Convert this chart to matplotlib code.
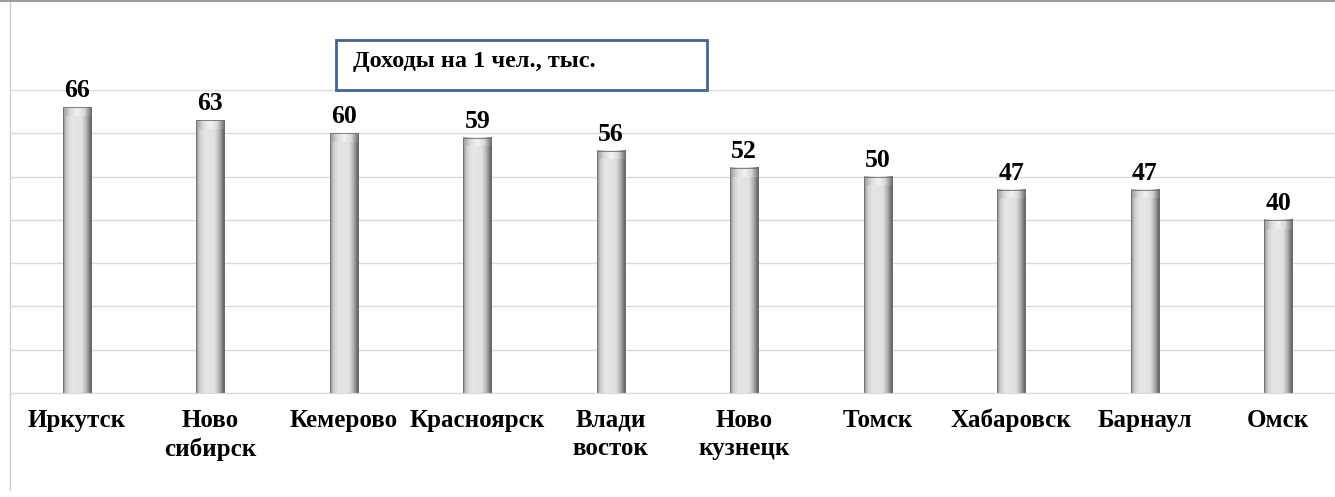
import numpy as np
import matplotlib
matplotlib.use("Agg")
import matplotlib.pyplot as plt
from matplotlib.colors import LinearSegmentedColormap
from matplotlib.patches import Rectangle
from matplotlib.lines import Line2D

# data
cities = ["Иркутск", "Ново\nсибирск", "Кемерово", "Красноярск", "Влади\nвосток",
          "Ново\nкузнецк", "Томск", "Хабаровск", "Барнаул", "Омск"]
income = [66, 63, 60, 59, 56, 52, 50, 47, 47, 40]
title = "Доходы на 1 чел., тыс."

plt.rcParams["font.family"] = ["Liberation Serif", "DejaVu Serif"]

fig = plt.figure(figsize=(13.35, 4.97), dpi=100)
ax = fig.add_axes([10 / 1335, 1 - 393 / 497, 1325 / 1335, 303 / 497])

# shaded "cylinder" look for the bars
body_cmap = LinearSegmentedColormap.from_list("body", [
    (0.0, "#8c8c8c"), (0.12, "#cfcfcf"), (0.3, "#e6e6e6"),
    (0.65, "#e2e2e2"), (0.82, "#b0b0b0"), (1.0, "#555555")])
cap_cmap = LinearSegmentedColormap.from_list("cap", [
    (0.0, "#9a9a9a"), (0.25, "#dcdcdc"), (0.5, "#f2f2f2"),
    (0.75, "#d6d6d6"), (1.0, "#6a6a6a")])
grad = np.linspace(0, 1, 64).reshape(1, -1)

w = 0.21
x = np.arange(len(cities))
for xi, v in zip(x, income):
    ax.imshow(grad, cmap=body_cmap, aspect="auto", extent=(xi - w / 2, xi + w / 2, 0, v), zorder=2)
    ax.imshow(grad, cmap=cap_cmap, aspect="auto", extent=(xi - w / 2, xi + w / 2, v - 2.0, v), zorder=2.1)
ax.bar(x, income, width=w, facecolor="none", edgecolor="#6e6e6e", linewidth=0.6, zorder=3)

for xi, v in zip(x, income):
    ax.annotate(str(v), (xi, v), xytext=(0, 3.5), textcoords="offset points",
                ha="center", va="bottom", fontsize=18.5, fontweight="bold")

ax.set_xlim(-0.5, 9.425)
ax.set_ylim(0, 70)
ax.set_yticks(np.arange(0, 71, 10))
ax.yaxis.grid(True, color="#d9d9d9", linewidth=1)
ax.set_axisbelow(True)
ax.tick_params(left=False, labelleft=False, bottom=False, pad=8)
ax.set_xticks(x)
ax.set_xticklabels(cities, fontsize=18, fontweight="bold", linespacing=1.3)
for s in ["top", "right", "left"]:
    ax.spines[s].set_visible(False)
ax.spines["bottom"].set_color("#d9d9d9")

# chart frame lines
fig.add_artist(Line2D([10 / 1335, 10 / 1335], [1, 1 - 490 / 497], color="#d0d0d0", lw=1))
fig.add_artist(Line2D([0, 1], [0.998, 0.998], color="#8a8a8a", lw=1.2))

# title box
fig.add_artist(Rectangle((336 / 1335, 1 - 90 / 497), 371 / 1335, 50 / 497,
                         facecolor="white", edgecolor="#41649a", lw=2, zorder=5))
fig.text(353 / 1335, 1 - 62 / 497, title, fontsize=17.5, fontweight="bold",
         va="center", ha="left", zorder=6)

fig.savefig("out.png", dpi=100)
